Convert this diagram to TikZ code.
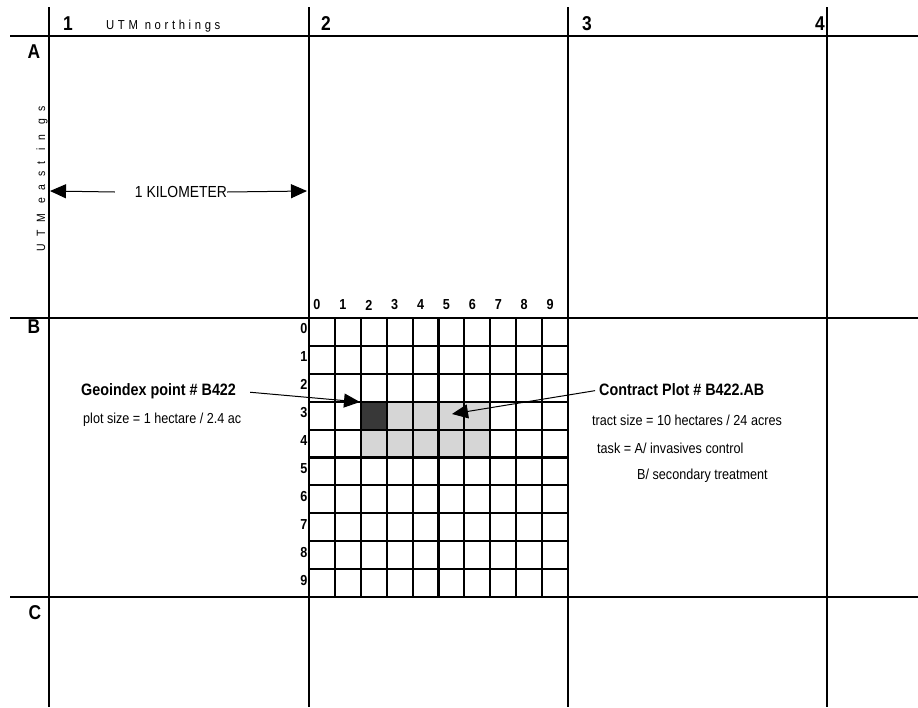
\documentclass[tikz,border=0pt]{standalone}
\usepackage{fontspec}
\setmainfont{Liberation Sans}
\newfontfamily\narrowsf{Liberation Sans}[FakeStretch=0.87]
\usetikzlibrary{arrows.meta, calc}

\tikzset{
  bigline/.style={line width=2.7pt},
  gridline/.style={line width=2.1pt},
  pointer/.style={line width=1pt, -{Triangle[length=16pt, width=14pt]}},
  headlbl/.style={font=\narrowsf\bfseries\fontsize{20}{20}\selectfont, inner sep=0pt},
  celllbl/.style={font=\narrowsf\bfseries\fontsize{14.5}{14.5}\selectfont, inner sep=0pt},
  titlelbl/.style={font=\narrowsf\bfseries\fontsize{16.5}{16.5}\selectfont, inner sep=0pt, anchor=west},
  notelbl/.style={font=\narrowsf\fontsize{14.5}{14.5}\selectfont, inner sep=0pt, anchor=west}
}

\begin{document}
\begin{tikzpicture}[x=1pt, y=-1pt]
        \useasboundingbox (0,0) rectangle (918,707);

        % shaded plot cells (drawn first, grid lines go over them)
        \fill[black!16] (360.8,401.7) rectangle (490.3,457.5);
        \fill[black!78] (360.8,401.7) rectangle (386.7,429.6);

        % big kilometer grid
        \draw[bigline] (49,7) -- (49,707);
        \draw[bigline] (309,7) -- (309,707);
        \draw[bigline] (568,7) -- (568,707);
        \draw[bigline] (827,7) -- (827,707);
        \draw[bigline] (10,36) -- (918,36);
        \draw[bigline] (10,318) -- (918,318);
        \draw[bigline] (10,597) -- (918,597);

        % 100 m sub-grid inside block B2
        \foreach \i in {1,...,9} {
            \draw[gridline] ({309+25.9*\i},318) -- ({309+25.9*\i},597);
            \draw[gridline] (309,{318+27.9*\i}) -- (568,{318+27.9*\i});
        }
        \foreach \i in {0,...,9} {
            \node[celllbl] (col\i) at ({317+25.9*\i},305) {\i};
            \node[celllbl, anchor=east] (row\i) at (307.5,{329+27.9*\i}) {\i};
        }

        % column and row headings
        \node[headlbl, anchor=base] (c1) at (68,30) {1};
        \node[headlbl, anchor=base] (c2) at (326,30) {2};
        \node[headlbl, anchor=base] (c3) at (587,30) {3};
        \node[headlbl, anchor=base] (c4) at (820,30) {4};
        \node[headlbl] (rA) at (34,52) {A};
        \node[headlbl] (rB) at (34,327) {B};
        \node[headlbl] (rC) at (35,613) {C};

        % axis names
        \node[anchor=base west, inner sep=0pt, font=\narrowsf\fontsize{13}{13}\selectfont\addfontfeatures{LetterSpace=28}] (north) at (106,29) {UTM northings};
        \node[rotate=90, inner sep=0pt, font=\narrowsf\fontsize{12}{12}\selectfont\addfontfeatures{LetterSpace=63}] (east) at (42,179) {UTM east in gs};

        % one kilometer span
        \node[inner sep=0pt, font=\narrowsf\fontsize{16}{16}\selectfont] (km) at (181,192) {1 KILOMETER};
        \coordinate (kmleft) at (50,191);
        \coordinate (kmright) at (307,191);
        \draw[pointer] (km.west) ++(-20,0) -- (kmleft);
        \draw[pointer] (km.east) -- (kmright);

        % geoindex point
        \node[titlelbl] (geo) at (81,391) {Geoindex point \# B422};
        \node[notelbl] (geosize) at (83,420) {plot size = 1 hectare / 2.4 ac};
        \coordinate (geotip) at (360,402);
        \draw[pointer, shorten <=14pt] (geo.east) -- (geotip);

        % contract plot
        \node[titlelbl] (plot) at (599,390) {Contract Plot \# B422.AB};
        \node[notelbl] (plotsize) at (592,420) {tract size = 10 hectares / 24 acres};
        \node[notelbl] (task) at (597,448) {task = A/ invasives control};
        \node[notelbl] (task2) at (637,476) {B/ secondary treatment};
        \coordinate (plottip) at (452,414);
        \draw[pointer, shorten <=4pt] (plot.west) -- (plottip);
\end{tikzpicture}
\end{document}
